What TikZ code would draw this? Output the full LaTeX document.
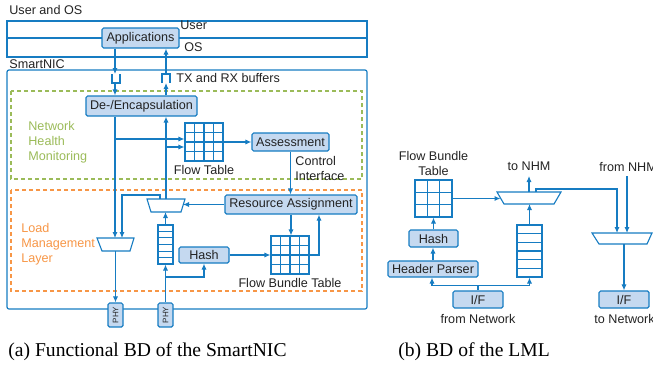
\documentclass[tikz,border=0pt]{standalone}
\usepackage{fontspec}
\setmainfont{Liberation Serif}
\setsansfont{Liberation Sans}
\usetikzlibrary{arrows.meta,calc}
\definecolor{nicblue}{RGB}{22,124,194}
\definecolor{boxfill}{RGB}{197,217,240}
\definecolor{nhmgreen}{RGB}{155,187,89}
\definecolor{lmlorange}{RGB}{247,150,70}
\definecolor{txt}{RGB}{35,35,35}
\begin{document}
\begin{tikzpicture}[x=0.5pt,y=-0.5pt,
 sf/.style={font=\sffamily\fontsize{6.3}{7.5}\selectfont},
 lbl/.style={sf, text=txt, inner sep=0},
 blk/.style={draw=nicblue, fill=boxfill, line width=0.6pt, rounded corners=0.8pt, inner sep=0, sf, text=txt},
 wire/.style={draw=nicblue, line width=0.55pt},
 arr/.style={wire, -{Latex[length=3pt,width=2.6pt]}},
 tbl/.style={draw=nicblue, fill=white, line width=0.55pt, inner sep=0, minimum width=19pt, minimum height=19pt},
 que/.style={draw=nicblue, fill=white, line width=0.55pt, inner sep=0},
 muxs/.style={draw=nicblue, fill=white, line width=0.55pt},
 phy/.style={blk, minimum width=7.5pt, minimum height=12pt},
 captxt/.style={font=\rmfamily\fontsize{9.8}{11}\selectfont, inner sep=0, anchor=west}
]
\useasboundingbox (0,0) rectangle (653,370);

% ---------- (a) ----------
\node[lbl, anchor=west] (uos) at (9,10) {User and OS};
\draw[nicblue, line width=0.6pt] (7,21) rectangle (367,57);
\draw[nicblue, line width=0.6pt] (7,38) -- (367,38);
\node[lbl, anchor=west] (user) at (180,25) {User};
\node[lbl, anchor=west] (os) at (184,47) {OS};
\node[blk, minimum width=38.5pt, minimum height=10pt] (app) at (140.5,38) {Applications};

\node[lbl, anchor=west] (snic) at (9,64) {SmartNIC};
\draw[nicblue, line width=0.6pt, rounded corners=1pt] (7,70) rectangle (367,309);

\draw[nhmgreen, line width=0.6pt, dash pattern=on 2pt off 1.5pt] (11,91) rectangle (362,179);
\draw[lmlorange, line width=0.6pt, dash pattern=on 2pt off 1.5pt] (11,190) rectangle (362,291);

\node[sf, text=nhmgreen, inner sep=0, anchor=west, align=left] (nhm) at (28,142) {Network\\Health\\Monitoring};
\node[sf, text=lmlorange, inner sep=0, anchor=west, align=left] (lml) at (21,244) {Load\\Management\\Layer};

\node[lbl, anchor=west] (txrx) at (176,78) {TX and RX buffers};
\node[blk, minimum width=55.5pt, minimum height=10pt] (dec) at (141.5,106) {De-/Encapsulation};

% buffers
\coordinate (rxin) at (115,74);
\coordinate (rxout) at (115,83);
\coordinate (txin) at (166,83);
\coordinate (txout) at (166,74);
\draw[wire] (112,74) -- (112,83) -- (120,83) -- (120,74);
\draw[wire] (162,83) -- (162,74) -- (170,74) -- (170,83);

% flow table
\node[tbl] (ft) at (204,142) {};
\foreach \i in {1,2,3}{
  \draw[wire] ($(ft.north west)!\i/4!(ft.north east)$) -- ($(ft.south west)!\i/4!(ft.south east)$);
  \draw[wire] ($(ft.north west)!\i/4!(ft.south west)$) -- ($(ft.north east)!\i/4!(ft.south east)$);
}
\node[lbl] (ftl) at (204,170) {Flow Table};

\node[blk, minimum width=38.5pt, minimum height=9pt] (asm) at (290.5,142) {Assessment};
\node[lbl, anchor=west, align=left] (ci) at (295,168.5) {Control\\Interface};
\node[blk, minimum width=66pt, minimum height=9.5pt] (ra) at (291,204.5) {Resource Assignment};

% muxes (a)
\draw[muxs] (147,199) -- (185,199) -- (181,212) -- (151,212) -- cycle;
\coordinate (muxA-n) at (166,199);
\coordinate (muxA-s) at (166,212);
\coordinate (muxA-e) at (183,204.5);
\draw[muxs] (97,238) -- (134,238) -- (130,251) -- (102,251) -- cycle;
\coordinate (muxB-n) at (115.5,238);
\coordinate (muxB-s) at (115.5,251);

\node[que, minimum width=7.5pt, minimum height=19.5pt] (q1) at (165.5,244.5) {};
\foreach \i in {1,...,5}{
  \draw[wire] ($(q1.north west)!\i/6!(q1.south west)$) -- ($(q1.north east)!\i/6!(q1.south east)$);
}

\node[blk, minimum width=25pt, minimum height=8pt] (hash) at (204,255) {Hash};

\node[tbl] (fbt) at (290,255) {};
\foreach \i in {1,2,3}{
  \draw[wire] ($(fbt.north west)!\i/4!(fbt.north east)$) -- ($(fbt.south west)!\i/4!(fbt.south east)$);
  \draw[wire] ($(fbt.north west)!\i/4!(fbt.south west)$) -- ($(fbt.north east)!\i/4!(fbt.south east)$);
}
\node[lbl] (fbtl) at (290,283) {Flow Bundle Table};

\node[phy] (phy1) at (115.5,315) {};
\node[phy] (phy2) at (165.5,315) {};
\node[font=\sffamily\fontsize{4}{4}\selectfont, text=txt, rotate=90, inner sep=0] (phy1t) at (phy1) {PHY};
\node[font=\sffamily\fontsize{4}{4}\selectfont, text=txt, rotate=90, inner sep=0] (phy2t) at (phy2) {PHY};

% connectors (a)
\draw[arr] ([xshift=-12.75pt]app.south) -- (rxin);
\draw[arr] (rxout) -- (rxout |- dec.north);
\draw[arr] ([xshift=12.25pt]dec.north) -- (txin);
\draw[arr] (txout) -- (txout |- app.south);

\coordinate (dl) at ([xshift=-13.25pt]dec.south);
\draw[arr] (dl) -- (dl |- muxB-n);
\coordinate (j1) at (115,139);
\draw[arr] (j1) -- (j1 -| ft.west);

\draw[arr] (muxA-n) -- (muxA-n |- dec.south);
\coordinate (j2) at (166,147);
\draw[arr] (j2) -- (j2 -| ft.west);

\draw[arr] ([xshift=-3pt]muxA-n) -- ++(0,-4) -| ([xshift=3.25pt]muxB-n);

\draw[arr] (ft.east) -- (ft.east -| asm.west);
\draw[arr] (asm.south) -- (asm.south |- ra.north);
\draw[arr] (ra.west) -- (muxA-e);
\draw[arr] (ra.south) -- (ra.south |- fbt.north);
\draw[arr] (fbt.east) -| ([xshift=14pt]ra.south);
\draw[arr] (hash.east) -- (hash.east -| fbt.west);
\draw[arr] (q1.north) -- (q1.north |- muxA-s);
\draw[arr] (phy2.north) -- (phy2.north |- q1.south);
\coordinate (j3) at (165.5,277);
\draw[arr] (j3) -| (hash.south);
\draw[arr] (muxB-s) -- (muxB-s |- phy1.north);

% ---------- (b) ----------
\node[lbl, align=center] (fbt2l) at (433.5,163.5) {Flow Bundle\\Table};
\node[que, minimum width=18.5pt, minimum height=18.5pt] (fbt2) at (433.5,198.5) {};
\foreach \i in {1,2}{
  \draw[wire] ($(fbt2.north west)!\i/3!(fbt2.north east)$) -- ($(fbt2.south west)!\i/3!(fbt2.south east)$);
  \draw[wire] ($(fbt2.north west)!\i/3!(fbt2.south west)$) -- ($(fbt2.north east)!\i/3!(fbt2.south east)$);
}
\node[blk, minimum width=24.5pt, minimum height=8.5pt] (hash2) at (433.5,238.5) {Hash};
\node[blk, minimum width=45pt, minimum height=8pt] (hp) at (433,269) {Header Parser};
\node[blk, minimum width=25pt, minimum height=8.5pt] (if1) at (478,299.5) {I/F};
\node[lbl] (fnet) at (478,319) {from Network};

\node[que, minimum width=12.5pt, minimum height=26pt] (q2) at (529.5,251) {};
\foreach \i in {1,...,5}{
  \draw[wire] ($(q2.north west)!\i/6!(q2.south west)$) -- ($(q2.north east)!\i/6!(q2.south east)$);
}
\draw[muxs] (497,192) -- (561,192) -- (554,204) -- (504,204) -- cycle;
\coordinate (muxC-n) at (529,192);
\coordinate (muxC-s) at (529,204);
\coordinate (muxC-w) at (500.5,198.5);
\draw[muxs] (592,233) -- (652,233) -- (647,244) -- (599,244) -- cycle;
\coordinate (muxD-n) at (622,233);
\coordinate (muxD-s) at (624,244);

\node[blk, minimum width=25pt, minimum height=8.5pt] (if2) at (624,299.5) {I/F};
\node[lbl, anchor=west] (tnet) at (594,319) {to Network};
\node[lbl] (tnhm) at (529,166) {to NHM};
\node[lbl, anchor=west] (fnhm) at (599,167) {from NHM};

% connectors (b)
\draw[arr] (fbt2.east) -- (muxC-w);
\draw[arr] (hash2.north) -- (fbt2.south);
\draw[arr] (hp.north) -- (hp.north |- hash2.south);
\draw[wire] (if1.north) -- ++(0,-5) coordinate (j4);
\draw[arr] (j4) -| ([xshift=-0.5pt]hp.south);
\draw[arr] (j4) -| (q2.south);
\draw[arr] (q2.north) -- (q2.north |- muxC-s);
\draw[arr] (muxC-n) -- ++(0,-16) coordinate (toN);
\draw[arr] ([xshift=3.5pt]muxC-n) -- ++(0,-3) -| ([xshift=-2.5pt]muxD-n);
\coordinate (fromN) at (627,176);
\draw[arr] (fromN) -- (fromN |- muxD-n);
\draw[arr] (muxD-s) -- (muxD-s |- if2.north);

% captions
\node[captxt] (capa) at (8,352) {(a) Functional BD of the SmartNIC};
\node[captxt] (capb) at (398,352) {(b) BD of the LML};
\end{tikzpicture}
\end{document}
